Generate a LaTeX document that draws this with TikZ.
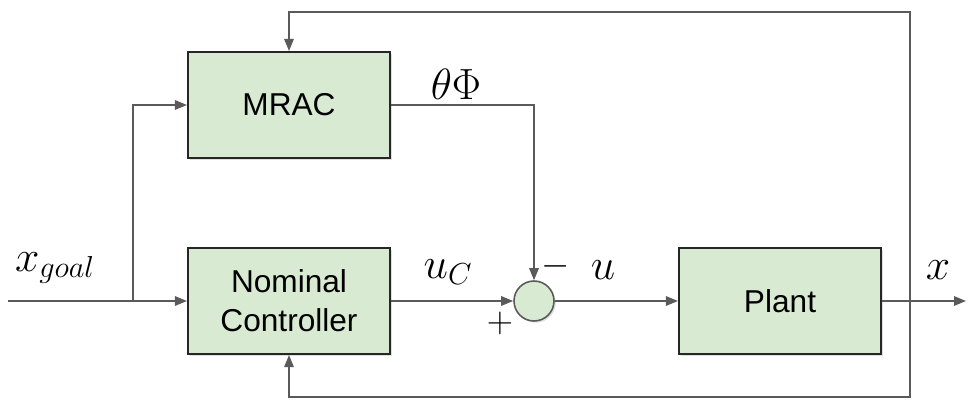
\documentclass[tikz,border=0pt]{standalone}
\usepackage{amsmath,amssymb}
\usepackage{fontspec}
\setsansfont{Liberation Sans}
\usetikzlibrary{arrows.meta,positioning,shadows}
\definecolor{boxfill}{HTML}{D9EAD3}
\definecolor{wiregray}{HTML}{5A5A5A}

\begin{document}
\begin{tikzpicture}[x=0.02cm, y=-0.02cm,
    block/.style={draw=black!85, line width=1.2pt, fill=boxfill,
      minimum width=4.04cm, minimum height=2.12cm, align=center,
      font=\sffamily\fontsize{18}{22}\selectfont,
      drop shadow={opacity=0.25, shadow xshift=1.2pt, shadow yshift=-1.2pt}},
    sumnode/.style={circle, draw=wiregray, line width=0.9pt, fill=boxfill,
      minimum size=0.8cm, inner sep=0pt,
      drop shadow={opacity=0.25, shadow xshift=1pt, shadow yshift=-1pt}},
    sig/.style={draw=wiregray, line width=0.85pt,
      -{Triangle[length=2.4mm,width=1.9mm]}},
    lbl/.style={font=\fontsize{25}{30}\selectfont},
    sgn/.style={font=\fontsize{21}{25}\selectfont}]
  \useasboundingbox (0,0) rectangle (969,402);

  % Blocks
  \node[block] (mrac) at (289,105) {MRAC};
  \node[block] (nom) at (289,301) {Nominal\\Controller};
  \node[block] (plant) at (780,301) {Plant};
  \node[sumnode] (sum) at (534,301) {};

  % Hilfspunkte
  \coordinate (in) at (8,301);
  \coordinate (split) at (133,301);
  \coordinate (out) at (966,301);
  \coordinate (fb) at (910,301);
  \coordinate (fbtop) at (910,12);
  \coordinate (fbbot) at (910,397);

  % Signalpfade
  \draw[sig] (in) -- (nom);
  \draw[sig] (split) |- (mrac);
  \draw[sig] (mrac) -| (sum);
  \draw[sig] (nom) -- (sum);
  \draw[sig] (sum) -- (plant);
  \draw[sig] (plant) -- (out);
  \draw[sig] (fb) -- (fbtop) -| (mrac);
  \draw[sig] (fb) -- (fbbot) -| (nom);

  % Beschriftungen
  \node[lbl] (xgoal) at (55,268) {$x_{goal}$};
  \node[lbl] (thphi) at (456,84) {$\theta\Phi$};
  \node[lbl] (uc) at (448,272) {$u_C$};
  \node[lbl] (u) at (603,270) {$u$};
  \node[lbl] (x) at (938,270) {$x$};
  \node[sgn] (minus) at (556,266) {$-$};
  \node[sgn] (plus) at (500,323) {$+$};
\end{tikzpicture}
\end{document}
